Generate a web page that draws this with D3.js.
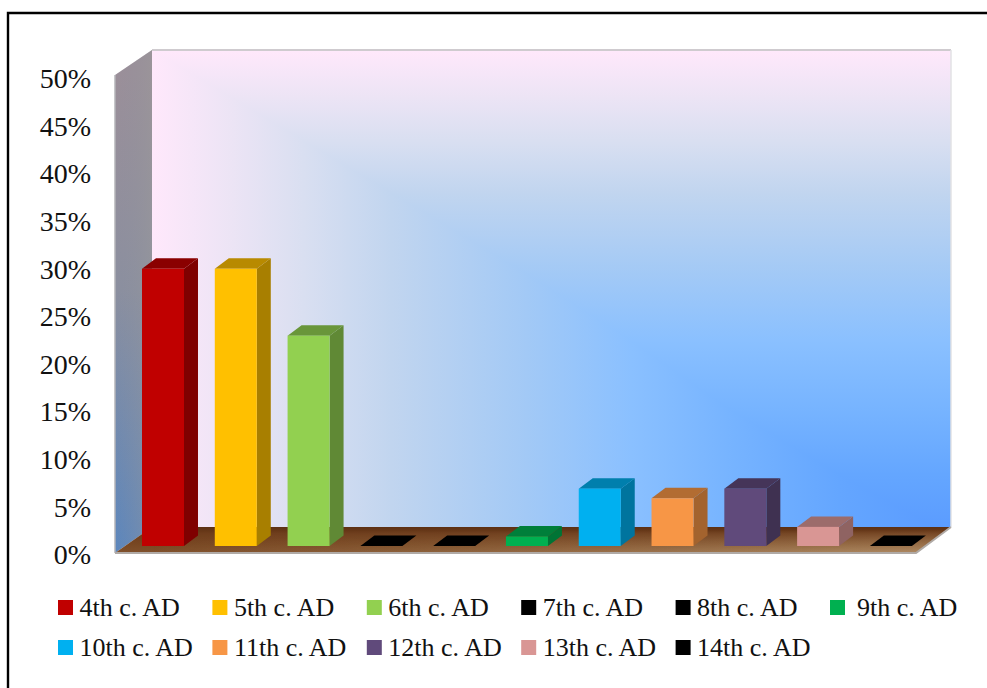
<!DOCTYPE html>
<html>
<head>
<meta charset="utf-8">
<script src="https://cdnjs.cloudflare.com/ajax/libs/d3/7.8.5/d3.min.js"></script>
<style>
  html, body { margin: 0; padding: 0; background: #fff; }
  svg { display: block; }
  text { font-family: "Liberation Serif", serif; fill: #111; }
</style>
</head>
<body>
<svg id="chart" width="987" height="688"></svg>
<script>
const categories = ["4th c. AD", "5th c. AD", "6th c. AD", "7th c. AD", "8th c. AD", "9th c. AD",
                    "10th c. AD", "11th c. AD", "12th c. AD", "13th c. AD", "14th c. AD"];
const shares = [29, 29, 22, 0, 0, 1, 6, 5, 6, 2, 0];
const tickValues = [0, 5, 10, 15, 20, 25, 30, 35, 40, 45, 50];
const palette = ["#c00000", "#ffc000", "#92d050", "#000000", "#000000", "#00b050",
                 "#00b0f0", "#f79646", "#604a7b", "#d99694", "#000000"];

const svg = d3.select("#chart");
const defs = svg.append("defs");

// Page frame: open at the bottom and running off the right edge
svg.append("path")
  .attr("d", "M8,688V13H987")
  .attr("fill", "none").attr("stroke", "#000").attr("stroke-width", 2.4);

// Box geometry of the 3D plot
const frontLeft = 115, depthX = 37, depthY = 26;
const wallRight = 951, floorFront = 553, wallTop = 50;
const y = d3.scaleLinear().domain([0, 50]).range([floorFront, floorFront - 478]);
const wallBottom = floorFront - depthY;
const wallLeft = frontLeft + depthX;

function linear(id, x1, y1, x2, y2, stops) {
  const g = defs.append("linearGradient").attr("id", id)
    .attr("gradientUnits", "userSpaceOnUse")
    .attr("x1", x1).attr("y1", y1).attr("x2", x2).attr("y2", y2);
  stops.forEach(([o, c, a]) => {
    const s = g.append("stop").attr("offset", o).attr("stop-color", c);
    if (a !== undefined) s.attr("stop-opacity", a);
  });
}

// Back wall: a corner-anchored gradient. The vertical ramp fills the wall and the horizontal
// ramp covers the part below a bent line along which the two ramps carry equal colours.
const wallColours = ["#ffe8fb", "#ece4f5", "#d9dff1", "#c1d5ef", "#a2c9f6", "#8ac0ff", "#77b4ff", "#64a6ff", "#5b9cff"];
const wallDown   = [0, .1, .19, .3, .47, .61, .75, .89, 1];
const wallAcross = [0, .1, .19, .3, .47, .6, .72, .86, .98];
linear("wallV", 0, wallTop, 0, wallBottom, wallColours.map((c, i) => [wallDown[i], c]));
linear("wallH", wallLeft, 0, wallRight, 0, wallColours.map((c, i) => [wallAcross[i], c]));
const wallW = wallRight - wallLeft, wallH = wallBottom - wallTop;
const plot = svg.append("g");
plot.append("rect")
  .attr("x", wallLeft).attr("y", wallTop).attr("width", wallW).attr("height", wallH)
  .attr("fill", "url(#wallV)");
const seam = wallDown.map((v, i) => `${wallLeft + wallAcross[i] * wallW},${wallTop + v * wallH}`);
plot.append("path")
  .attr("d", `M${seam.join("L")}L${wallLeft},${wallBottom}Z`)
  .attr("fill", "url(#wallH)");
plot.append("path")
  .attr("d", `M${wallLeft},${wallTop}H${wallRight}`)
  .attr("stroke", "#cfcbcf").attr("stroke-width", 2).attr("fill", "none");
plot.append("path")
  .attr("d", `M${wallRight},${wallTop}V${wallBottom}`)
  .attr("stroke", "#e2e2e4").attr("stroke-width", 1.5).attr("fill", "none");

// Left side wall
linear("sideV", 0, y(50), 0, floorFront, [[0, "#9b8f99"], [.45, "#8b8f9f"], [1, "#5b86bd"]]);
linear("sideH", frontLeft, 0, wallLeft, 0, [[0, "#8a8f9f", 0], [1, "#9a9a9a", .45]]);
const sidePath = `M${frontLeft},${y(50)}L${wallLeft},${wallTop}V${wallBottom}L${frontLeft},${floorFront}Z`;
plot.append("path").attr("d", sidePath).attr("fill", "url(#sideV)");
plot.append("path").attr("d", sidePath).attr("fill", "url(#sideH)");
plot.append("path")
  .attr("d", `M${frontLeft},${y(50)}V${floorFront}`)
  .attr("stroke", "#b5b5b8").attr("stroke-width", 1.5);

// Floor: dark along the back, warming toward the front right
linear("floorV", 0, wallBottom, 0, floorFront, [[0, "#5c3013"], [.25, "#6e3d1c"], [.65, "#784722"], [1, "#80512c"]]);
linear("floorH", wallLeft, 0, wallRight, 0, [[0, "#c0a078", 0], [.35, "#c0a078", .22], [1, "#c0a078", .75]]);
linear("floorFade", 0, wallBottom, 0, floorFront, [[.1, "#000"], [1, "#fff"]]);
defs.append("mask").attr("id", "floorMask").attr("maskUnits", "userSpaceOnUse")
  .attr("x", 0).attr("y", 0).attr("width", 987).attr("height", 688)
  .append("rect").attr("x", 0).attr("y", wallBottom).attr("width", 987).attr("height", depthY)
  .attr("fill", "url(#floorFade)");
const floorPath = `M${frontLeft},${floorFront}L${wallLeft},${wallBottom}H${wallRight}L${wallRight - depthX + 2},${floorFront}Z`;
plot.append("path").attr("d", floorPath).attr("fill", "url(#floorV)");
plot.append("path").attr("d", floorPath).attr("fill", "url(#floorH)").attr("mask", "url(#floorMask)");
plot.append("path")
  .attr("d", `M${frontLeft},${floorFront}H${wallRight - depthX + 2}L${wallRight},${wallBottom}`)
  .attr("fill", "none").attr("stroke", "#b0aaa6").attr("stroke-width", 2);

// Bars: front face, top and right side, set back from the front edge of the floor
const x = d3.scaleBand().domain(categories).range([126.6, 927.3]).paddingInner(.423).paddingOuter(.2115);
const barBase = floorFront - 7, barDX = 14, barDY = 10.5;
const bars = plot.selectAll("g.bar")
  .data(categories.map((c, i) => ({ c, v: shares[i], col: palette[i] })))
  .join("g").attr("class", "bar");
const shade = (col, k) => { const r = d3.rgb(col); return d3.rgb(r.r * k, r.g * k, r.b * k).formatHex(); };
const barTop = d => barBase - (y(0) - y(d.v));
bars.append("path")
  .attr("fill", d => shade(d.col, .66))
  .attr("d", d => {
    const r = x(d.c) + x.bandwidth(), t = barTop(d);
    return `M${r},${barBase}V${t}l${barDX},${-barDY}V${barBase - barDY}Z`;
  });
bars.append("path")
  .attr("fill", d => shade(d.col, .72))
  .attr("d", d => {
    const l = x(d.c), t = barTop(d);
    return `M${l},${t}h${x.bandwidth()}l${barDX},${-barDY}h${-x.bandwidth()}Z`;
  });
bars.append("rect")
  .attr("x", d => x(d.c)).attr("width", x.bandwidth())
  .attr("y", barTop).attr("height", d => barBase - barTop(d))
  .attr("fill", d => d.col);

// Value axis, labels spaced slightly tighter than the box height
const axisScale = y.copy().range([floorFront, floorFront - 476]);
const axis = d3.axisLeft(axisScale).tickValues(tickValues).tickFormat(d => d + "%").tickSize(0).tickPadding(0);
const axisG = svg.append("g").attr("transform", "translate(91,1.5)").call(axis);
axisG.select(".domain").remove();
axisG.selectAll("text").attr("dy", "0.33em")
  .style("font-family", '"Liberation Serif", serif').style("font-size", "28px").style("fill", "#111");

// Legend, two rows
const legendX = d3.scalePoint().domain(d3.range(6)).range([58, 830]);
const legend = svg.selectAll("g.key")
  .data(categories)
  .join("g").attr("class", "key")
  .attr("transform", (d, i) => `translate(${legendX(i % 6)},${i < 6 ? 600 : 640})`);
legend.append("rect").attr("width", 15).attr("height", 15).attr("fill", (d, i) => palette[i]);
legend.append("text")
  .attr("x", (d, i) => i === 5 ? 27 : 21.5).attr("y", 16)
  .style("font-size", "26px").text(d => d);
</script>
</body>
</html>
